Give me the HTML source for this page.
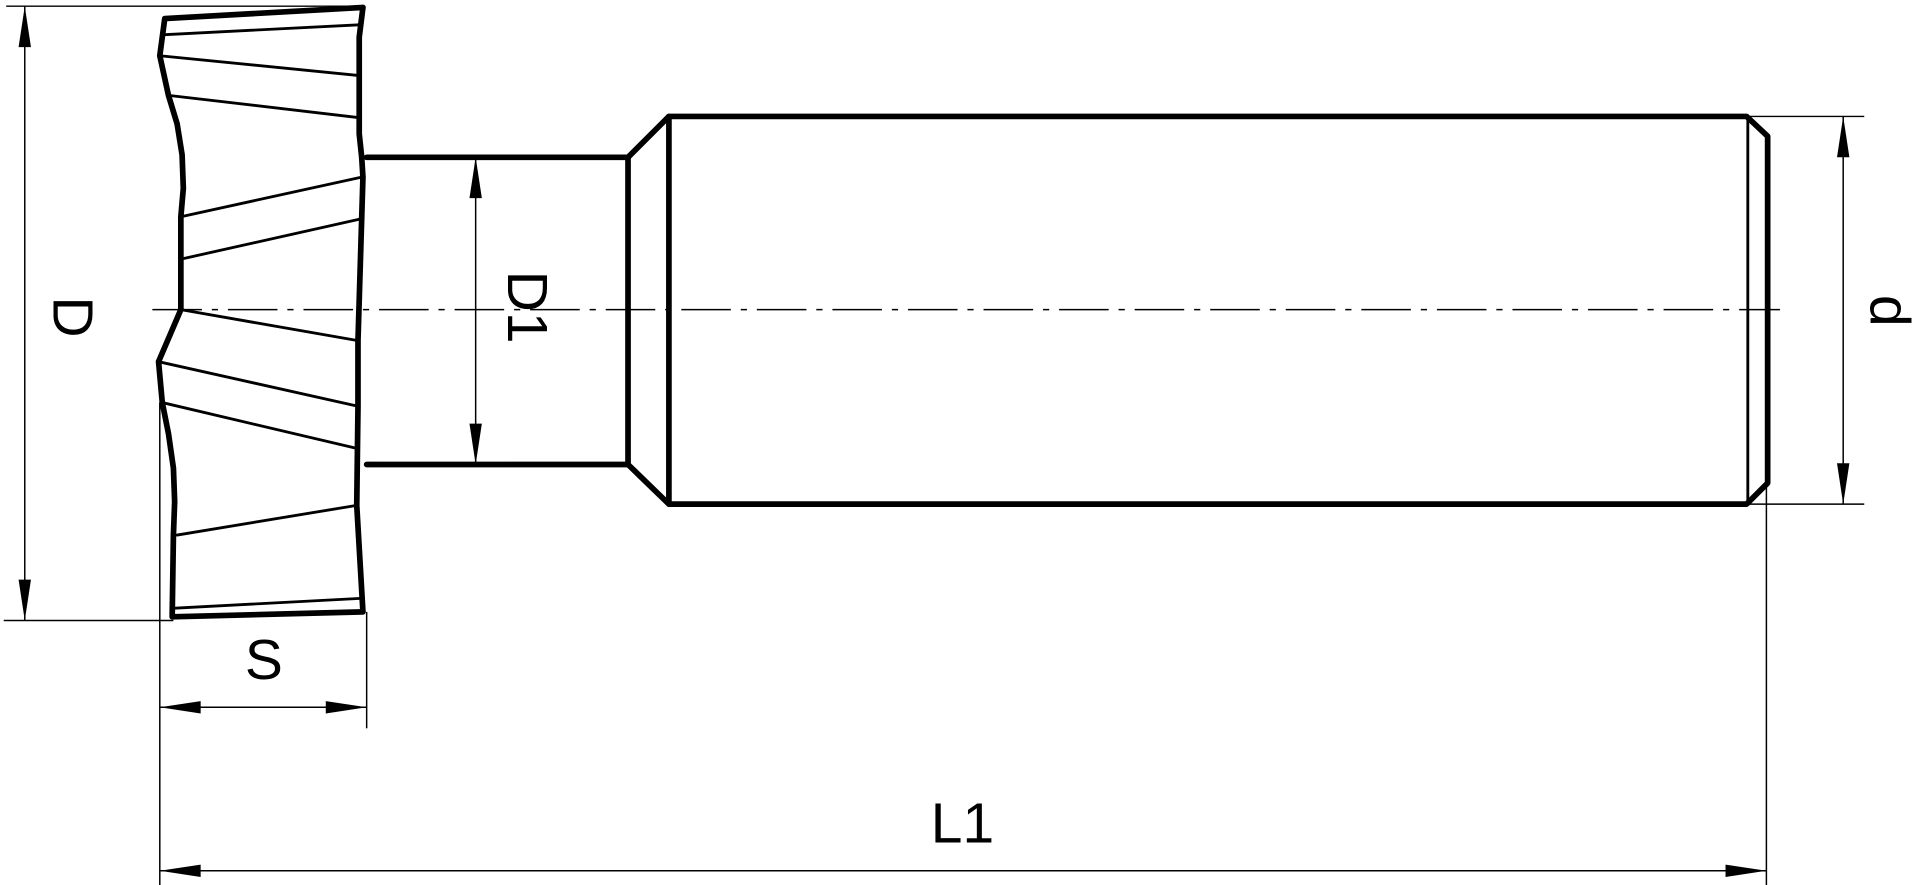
<!DOCTYPE html>
<html><head><meta charset="utf-8"><style>html,body{margin:0;padding:0;background:#fff;}svg{display:block}</style></head>
<body>
<svg width="1920" height="885" viewBox="0 0 1550 714.5" preserveAspectRatio="none" xmlns="http://www.w3.org/2000/svg">
<g fill="none" stroke="#000" stroke-linejoin="round" stroke-linecap="round">
<polyline stroke-width="4.6" points="133,15 293,6 290,30 290,108 292,127 293,143 289,275 289,328 288,408 293,494 139,498 140,432 141,405 140,378 136,350 131,325 128,292 146,250 146,175 148,152 147,125 143,100 136,77 129,45 133,15"/>
<g stroke-width="2.3">
<line x1="133" y1="28" x2="290" y2="20"/>
<line x1="129" y1="45" x2="290" y2="61"/>
<line x1="136" y1="77" x2="290" y2="95"/>
<line x1="146" y1="175" x2="292" y2="143"/>
<line x1="147" y1="209" x2="290" y2="177"/>
<line x1="146" y1="250" x2="289" y2="275"/>
<line x1="128" y1="292" x2="289" y2="328"/>
<line x1="131" y1="325" x2="288" y2="362"/>
<line x1="143" y1="432" x2="288" y2="408"/>
<line x1="141" y1="491" x2="293" y2="483"/>
</g>
<g stroke-width="4.6">
<line x1="296" y1="127" x2="507" y2="127"/>
<line x1="296" y1="375" x2="507" y2="375"/>
<line x1="507" y1="127" x2="507" y2="375"/>
<polyline points="507,127 540,94 1410,94 1427,110 1427,390 1410,407 540,407 507,375"/>
<line x1="540" y1="94" x2="540" y2="407"/>
</g>
<line x1="1411" y1="94" x2="1411" y2="407" stroke-width="2.3"/>
<line x1="123" y1="250" x2="1437" y2="250" stroke-width="1.2" stroke-linecap="butt" stroke-dasharray="40 8 5 8"/>
<g stroke-width="1.2" stroke-linecap="butt">
<line x1="5" y1="5" x2="293" y2="5"/>
<line x1="3" y1="501" x2="140" y2="501"/>
<line x1="20" y1="5" x2="20" y2="501"/>
<line x1="384" y1="127" x2="384" y2="375"/>
<line x1="1412" y1="94" x2="1505" y2="94"/>
<line x1="1412" y1="407" x2="1505" y2="407"/>
<line x1="1488" y1="94" x2="1488" y2="407"/>
<line x1="129" y1="325" x2="129" y2="718"/>
<line x1="296" y1="494" x2="296" y2="588"/>
<line x1="129" y1="571" x2="296" y2="571"/>
<line x1="1426" y1="390" x2="1426" y2="718"/>
<line x1="129" y1="703" x2="1426" y2="703"/>
</g>
</g>
<g fill="#000">
<polygon points="20,5 15,38 25,38"/><polygon points="20,501 15,468 25,468"/>
<polygon points="384,127 379,160 389,160"/><polygon points="384,375 379,342 389,342"/>
<polygon points="1488,94 1483,127 1493,127"/><polygon points="1488,407 1483,374 1493,374"/>
<polygon points="129,571 162,566 162,576"/><polygon points="296,571 263,566 263,576"/>
<polygon points="129,703 162,698 162,708"/><polygon points="1426,703 1393,698 1393,708"/>
</g>
<g font-family="Liberation Sans, sans-serif" font-size="46" fill="#000">
<text x="43" y="256" transform="rotate(90 43 256)" text-anchor="middle">D</text>
<text x="410" y="248" transform="rotate(90 410 248)" text-anchor="middle">D1</text>
<text x="1510" y="251" transform="rotate(90 1510 251)" text-anchor="middle">d</text>
<text x="213" y="548" text-anchor="middle">S</text>
<text x="777" y="680" text-anchor="middle">L1</text>
</g>
</svg>
</body></html>
